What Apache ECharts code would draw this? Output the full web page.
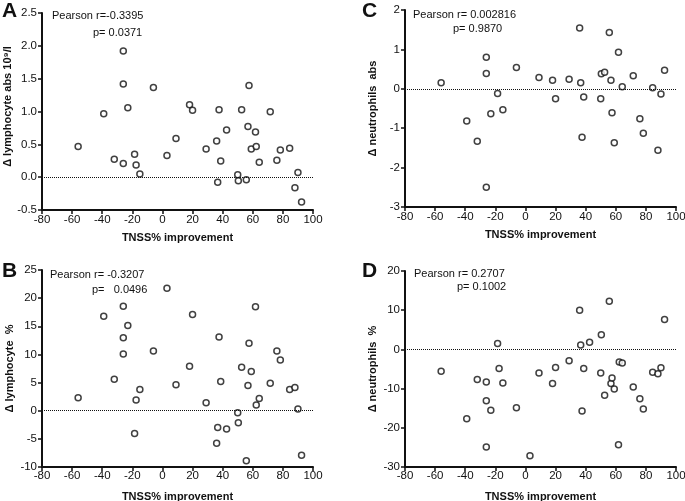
<!DOCTYPE html>
<html><head><meta charset="utf-8">
<script src="https://cdn.jsdelivr.net/npm/echarts@6/dist/echarts.min.js"></script>
<style>html,body{margin:0;padding:0;background:#fff}#c{width:685px;height:501px}</style>
</head><body><div id="c"></div><script>
// TNSS% improvement (shared x for all panels)
const tnssImprovement = [-56, -39, -32, -26, -26, -26, -23, -18.5, -17.5, -15, -6, 3, 9, 18, 20, 29, 36, 36.7, 37.6, 38.7, 42.6, 50, 50.4, 52.6, 55.7, 56.8, 57.5, 59, 61.8, 62.3, 64.3, 71.6, 76, 78.3, 84.5, 88, 90, 92.4];
// Panel A: Δ lymphocyte abs 10^9/l
const lymphAbs = [0.466, 0.967, 0.273, 1.92, 1.418, 0.208, 1.058, 0.35, 0.187, 0.05, 1.367, 0.33, 0.587, 1.104, 1.018, 0.43, 0.552, -0.076, 1.028, 0.248, 0.719, 0.035, -0.056, 1.028, -0.04, 0.77, 1.397, 0.43, 0.689, 0.466, 0.228, 0.997, 0.258, 0.415, 0.44, -0.162, 0.071, -0.38];
// Panel B: Δ lymphocyte %
const lymphPct = [2.3, 16.8, 5.6, 18.57, 12.97, 10.08, 15.15, -4.07, 1.89, 3.77, 10.61, 21.76, 4.6, 7.9, 17.1, 1.42, -5.78, -3.0, 13.09, 5.19, -3.24, -0.35, -2.12, 7.72, -8.9, 4.48, 11.97, 6.96, 18.46, 1.0, 2.18, 4.9, 10.61, 9.02, 3.77, 4.13, 0.29, -7.9];
// Panel C: Δ neutrophils abs (null = not shown)
const neutAbs = [0.152, -0.82, -1.33, 0.80, 0.388, -2.50, -0.633, -0.118, null, -0.53, 0.54, null, 0.287, 0.22, -0.253, 0.245, 1.544, 0.152, -1.23, -0.21, null, -0.253, 0.38, 0.42, 1.426, 0.22, -0.61, -1.37, 0.928, null, 0.05, 0.33, -0.76, -1.13, 0.025, -1.56, -0.135, 0.47];
// Panel D: Δ neutrophils %
const neutPct = [-5.6, -17.7, -7.7, -8.3, -13.1, -24.9, -15.5, 1.53, -4.9, -8.6, -14.9, -27.1, -6.0, -8.7, -4.6, -2.9, 9.96, 1.1, -15.7, -4.9, 1.8, -6.0, 3.74, -11.7, 12.3, -8.7, -7.3, -10.1, -24.3, -3.2, -3.5, -9.6, -12.6, -15.2, -5.8, -6.2, -4.7, 7.6];

const xTicks = {min: -80, max: 100, interval: 20};
const panels = [
  {letter: 'A', yName: 'Δ lymphocyte abs 10⁹/l', y: lymphAbs, min: -0.5, max: 2.5, interval: 0.5, dec: 1, r: 'Pearson r=-0.3395', p: 'p= 0.0371'},
  {letter: 'C', yName: 'Δ neutrophils  abs', y: neutAbs, min: -3, max: 2, interval: 1, dec: 0, r: 'Pearson r= 0.002816', p: 'p= 0.9870'},
  {letter: 'B', yName: 'Δ lymphocyte  %', y: lymphPct, min: -10, max: 25, interval: 5, dec: 0, r: 'Pearson r= -0.3207', p: 'p=   0.0496'},
  {letter: 'D', yName: 'Δ neutrophils  %', y: neutPct, min: -30, max: 20, interval: 10, dec: 0, r: 'Pearson r= 0.2707', p: 'p= 0.1002'}
];
// layout (pixels)
const gridPos = [
  {left: 42, top: 13, width: 271, height: 197},
  {left: 405, top: 10, width: 271, height: 197},
  {left: 42, top: 270, width: 271, height: 197},
  {left: 405, top: 271, width: 271, height: 196}
];
const xLabelMargin = [4, 4, 3, 3];
const xNameGap = [22, 22, 24, 24];
const letterPos = [[2, 11], [362, 11], [2, 271], [362, 271]];
const rPos = [[52, 16], [413, 15], [50, 275], [414, 274]];
const pPos = [[93, 33], [453, 29], [92, 290], [457, 287]];

const FF = '"Liberation Sans", Arial, sans-serif';
const INK = '#111';

const chart = echarts.init(document.getElementById('c'), null, {renderer: 'canvas'});
const grid = [], xAxis = [], yAxis = [], series = [], graphic = [];
panels.forEach((pn, i) => {
  grid.push(Object.assign({outerBoundsMode: 'none', containLabel: false}, gridPos[i]));
  xAxis.push({
    type: 'value', gridIndex: i, min: xTicks.min, max: xTicks.max, interval: xTicks.interval,
    name: 'TNSS% improvement', nameLocation: 'middle', nameGap: xNameGap[i],
    nameTextStyle: {fontWeight: 'bold', fontSize: 11, color: INK, fontFamily: FF},
    axisLine: {onZero: false, lineStyle: {color: INK, width: 2}},
    axisTick: {length: 4, lineStyle: {color: INK, width: 1.5}},
    axisLabel: {fontSize: 11.5, color: INK, fontFamily: FF, margin: xLabelMargin[i]},
    splitLine: {show: false}
  });
  yAxis.push({
    type: 'value', gridIndex: i, min: pn.min, max: pn.max, interval: pn.interval,
    name: pn.yName, nameLocation: 'middle', nameGap: 27, nameRotate: 90,
    nameTextStyle: {fontWeight: 'bold', fontSize: 11, color: INK, fontFamily: FF, padding: i === 0 ? [0, 0, 0, 10] : 0},
    axisLine: {onZero: false, lineStyle: {color: INK, width: 2}},
    axisTick: {length: 4, lineStyle: {color: INK, width: 1.5}},
    axisLabel: {fontSize: 11.5, color: INK, fontFamily: FF, margin: 5,
      formatter: v => v.toFixed(pn.dec)},
    splitLine: {show: false}
  });
  const data = [];
  tnssImprovement.forEach((x, k) => { if (pn.y[k] !== null) data.push([x, pn.y[k]]); });
  series.push({
    type: 'scatter', xAxisIndex: i, yAxisIndex: i, data: data,
    symbol: 'circle', symbolSize: 6,
    itemStyle: {color: '#fff', borderColor: INK, borderWidth: 1.5},
    markLine: {silent: true, symbol: 'none', animation: false, label: {show: false},
      lineStyle: {type: 'dotted', color: INK, width: 1}, data: [{yAxis: 0}]},
    z: 3
  });
  graphic.push({type: 'text', x: letterPos[i][0], y: letterPos[i][1],
    style: {text: pn.letter, font: 'bold 21px ' + FF, fill: INK, verticalAlign: 'middle'}});
  graphic.push({type: 'text', x: rPos[i][0], y: rPos[i][1],
    style: {text: pn.r, font: '11px ' + FF, fill: INK, verticalAlign: 'middle'}});
  graphic.push({type: 'text', x: pPos[i][0], y: pPos[i][1],
    style: {text: pn.p, font: '11px ' + FF, fill: INK, verticalAlign: 'middle'}});
});

chart.setOption({animation: false, backgroundColor: '#fff', grid, xAxis, yAxis, series, graphic});
</script></body></html>
